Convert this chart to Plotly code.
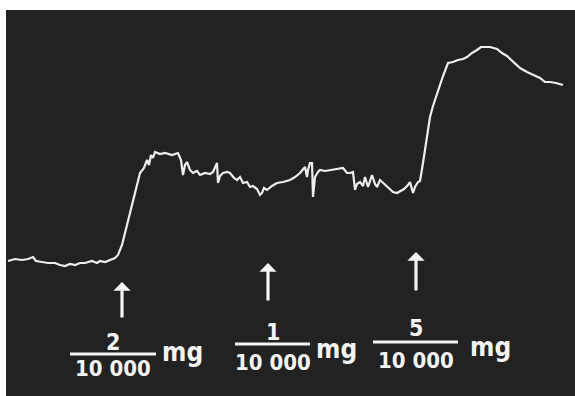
import plotly.graph_objects as go

# Kymograph trace (time units, deflection units)
t = [8, 15, 22, 28, 33, 36, 42, 48, 55, 60, 65, 70, 75, 80, 85, 92, 97, 100, 105, 110, 115, 118,
     122, 127, 132, 137, 140, 144, 147, 149, 151, 153, 155, 160, 165, 172, 178, 181, 183, 185, 187,
     190, 193, 197, 200, 205, 210, 213, 216, 217, 218, 220, 223, 227, 230, 234, 237, 240, 243, 247,
     250, 253, 257, 260, 262, 264, 267, 272, 277, 283, 290, 295, 300, 303, 305, 307, 308, 310, 312,
     313, 315, 318, 320, 325, 330, 337, 343, 347, 350, 353, 355, 357, 360, 363, 365, 368, 370, 372,
     375, 377, 380, 384, 387, 390, 393, 397, 400, 404, 408, 410, 413, 415, 418, 420, 423, 427, 430,
     433, 438, 443, 448, 453, 458, 463, 467, 472, 477, 481, 485, 490, 497, 502, 507, 511, 515, 520,
     527, 533, 540, 545, 550, 556, 563, 569, 575]
deflection = [135, 137, 136, 137, 139, 135, 134, 133, 133, 131, 130, 132, 131, 133, 133, 135, 133,
              135, 134, 136, 138, 141, 151, 171, 191, 213, 223, 228, 236, 231, 241, 238, 244, 242,
              243, 241, 243, 236, 221, 231, 234, 226, 223, 225, 221, 223, 222, 224, 230, 233, 213,
              220, 223, 224, 223, 218, 216, 219, 213, 214, 209, 210, 207, 201, 203, 208, 206, 210,
              213, 214, 216, 219, 223, 226, 229, 219, 226, 233, 233, 199, 219, 224, 226, 225, 226,
              227, 228, 223, 223, 224, 206, 212, 214, 210, 219, 209, 216, 221, 212, 209, 216, 212,
              209, 207, 204, 203, 205, 207, 211, 214, 203, 209, 214, 215, 233, 259, 279, 290, 306,
              320, 333, 334, 336, 337, 339, 343, 346, 349, 349, 349, 347, 343, 340, 336, 332, 328,
              324, 321, 318, 314, 314, 313, 311]

# Dose markers: arrow position (time), arrow tip / tail (deflection), dose numerator
dose_t = [122, 268, 416]
arrow_tip = [114, 133, 144]
arrow_tail = [77, 94, 104]
numerators = ["2", "1", "5"]
denominator = "10 000"
unit = "mg"

# Label layout (deflection units)
num_y = [54, 64, 68]
bar_y = [42, 52, 54]
den_y = [28, 34, 36]
bar_x0 = [70, 235, 373]
bar_x1 = [156, 310, 458]
unit_x = [182, 336, 490]
unit_y = [44, 47, 49]

fig = go.Figure()
fig.add_trace(go.Scatter(x=t, y=deflection, mode="lines",
                         line=dict(color="#eeeeee", width=2.2, shape="linear"),
                         hoverinfo="skip", showlegend=False))

fg = "#f4f4f4"
fam = "DejaVu Sans Condensed"
for i in range(3):
    fig.add_annotation(x=dose_t[i], y=arrow_tip[i], ax=dose_t[i], ay=arrow_tail[i],
                       xref="x", yref="y", axref="x", ayref="y", text="",
                       showarrow=True, arrowhead=1, arrowsize=0.9, arrowwidth=3.2, arrowcolor=fg)
    fig.add_shape(type="line", x0=bar_x0[i], x1=bar_x1[i], y0=bar_y[i], y1=bar_y[i],
                  xref="x", yref="y", line=dict(color=fg, width=3))
    cx = (bar_x0[i] + bar_x1[i]) / 2
    fig.add_annotation(x=cx, y=num_y[i], xref="x", yref="y", text="<b>" + numerators[i] + "</b>",
                       showarrow=False, font=dict(family=fam, size=23, color=fg))
    fig.add_annotation(x=cx, y=den_y[i], xref="x", yref="y", text="<b>" + denominator + "</b>",
                       showarrow=False, font=dict(family=fam, size=22, color=fg))
    fig.add_annotation(x=unit_x[i], y=unit_y[i], xref="x", yref="y", text="<b>" + unit + "</b>",
                       showarrow=False, font=dict(family=fam, size=26, color=fg))

fig.update_layout(
    width=575, height=396,
    margin=dict(l=0, r=0, t=0, b=0, autoexpand=False),
    paper_bgcolor="#ffffff", plot_bgcolor="#222222",
    xaxis=dict(range=[6, 575], domain=[6 / 575, 1], visible=False, fixedrange=True),
    yaxis=dict(range=[0, 386], domain=[0, 386 / 396], visible=False, fixedrange=True),
    showlegend=False,
)

fig.write_html("out.html", config={"displayModeBar": False},
               post_script="document.body.style.margin='0';")
